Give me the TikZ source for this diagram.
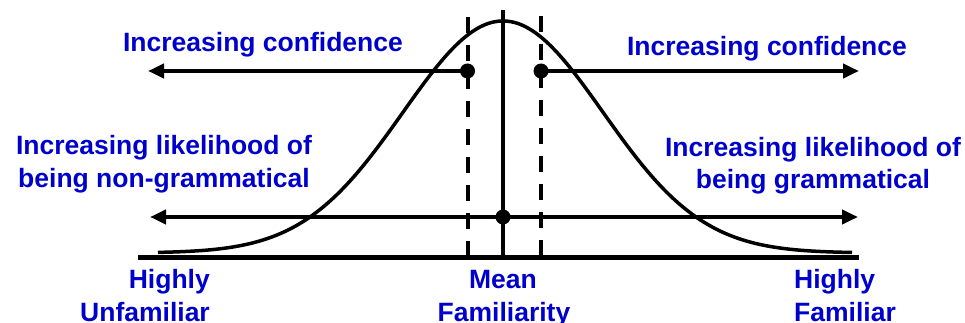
\documentclass[tikz,border=0pt]{standalone}
\usepackage{fontspec}
\setmainfont{Liberation Sans}
\usetikzlibrary{arrows.meta}
\definecolor{lblue}{RGB}{0,0,204}
\begin{document}
\begin{tikzpicture}[x=1pt,y=-1pt,
  lbl/.style={text=lblue,font=\bfseries\fontsize{26.5}{32}\selectfont,inner sep=0pt},
  thickline/.style={line width=4pt},
  dashline/.style={line width=4pt,dash pattern=on 16pt off 12pt},
  arr/.style={line width=4pt,-{Triangle[length=16pt,width=14pt]}},
  dblarr/.style={line width=4pt,{Triangle[length=16pt,width=14pt]}-{Triangle[length=16pt,width=14pt]}},
  dot/.style={circle,fill=black,minimum size=15pt,inner sep=0pt}]
\useasboundingbox (0,0) rectangle (965,323);
% curve
\draw[line width=3.5pt] plot[domain=158:852,samples=160,smooth] (\x,{253-232*exp(-((\x-503)/100)^2/2)});
% axis
\coordinate (axL) at (138,257);
\coordinate (axR) at (859,257);
\draw[line width=5pt] (axL) -- (axR);
% vertical lines
\coordinate (mT) at (503,10);
\coordinate (mB) at (503,257);
\draw[thickline] (mT) -- (mB);
\coordinate (lT) at (467.5,17);
\coordinate (lB) at (467.5,257);
\draw[dashline] (lT) -- (lB);
\coordinate (rT) at (541,16);
\coordinate (rB) at (541,257);
\draw[dashline] (rT) -- (rB);
% dots
\node[dot] (dl) at (467.5,71) {};
\node[dot] (dr) at (541,71) {};
\node[dot] (dm) at (503,217) {};
% upper arrows
\coordinate (ulTip) at (148,71);
\coordinate (urTip) at (859,71);
\draw[arr] (dl.center) -- (ulTip);
\draw[arr] (dr.center) -- (urTip);
% lower arrow
\coordinate (lowL) at (150,217);
\coordinate (lowR) at (858,217);
\draw[dblarr] (lowL) -- (lowR);
% labels
\node[lbl,anchor=base] (c1) at (263,52) {Increasing confidence};
\node[lbl,anchor=base] (c2) at (767,56) {Increasing confidence};
\node[lbl,anchor=base] (g1a) at (164,155) {Increasing likelihood of};
\node[lbl,anchor=base] (g1b) at (164,187) {being non-grammatical};
\node[lbl,anchor=base] (g2a) at (813,157) {Increasing likelihood of};
\node[lbl,anchor=base] (g2b) at (813,188) {being grammatical};
\node[lbl,anchor=base east] (h1a) at (210,288) {Highly};
\node[lbl,anchor=base east] (h1b) at (210,321) {Unfamiliar};
\node[lbl,anchor=base] (m1) at (503,288) {Mean};
\node[lbl,anchor=base] (m2) at (504,321) {Familiarity};
\node[lbl,anchor=base west] (h2a) at (794,288) {Highly};
\node[lbl,anchor=base west] (h2b) at (794,321) {Familiar};
\end{tikzpicture}
\end{document}
